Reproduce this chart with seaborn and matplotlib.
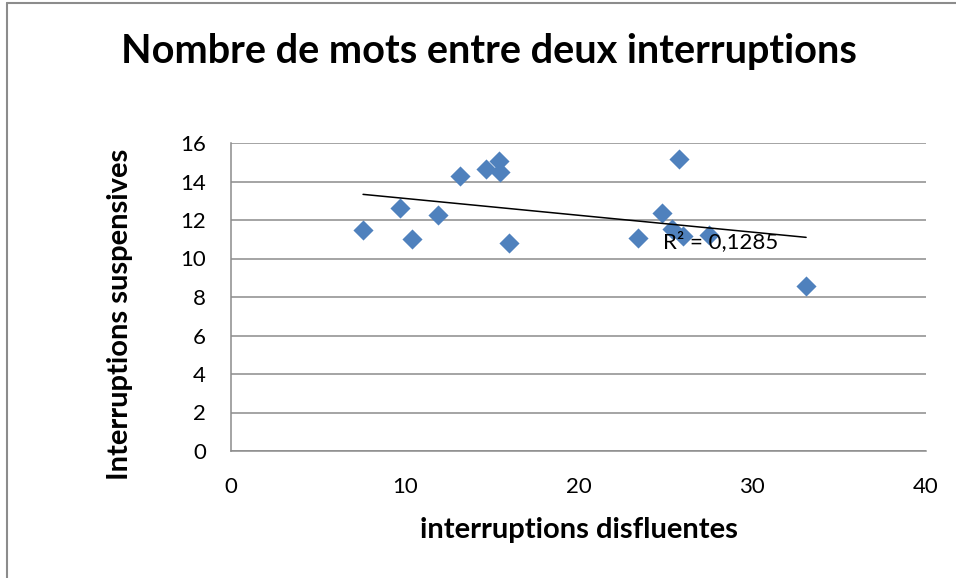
import matplotlib
matplotlib.use("Agg")
import matplotlib.pyplot as plt
import seaborn as sns
import pandas as pd
from matplotlib.lines import Line2D

# ------- DATA ---------
disfluentes = [7.6, 9.7, 10.4, 11.9, 13.2, 14.7, 15.4, 15.5, 16.0,
               23.4, 24.8, 25.4, 25.8, 26.0, 27.5, 33.1]
suspensives = [11.5, 12.6, 11.0, 12.25, 14.3, 14.65, 15.05, 14.5, 10.8,
               11.05, 12.35, 11.55, 15.15, 11.15, 11.2, 8.55]
r2_label = "R² = 0,1285"
title = "Nombre de mots entre deux interruptions"
x_label = "interruptions disfluentes"
y_label = "Interruptions suspensives"

df = pd.DataFrame({"x": disfluentes, "y": suspensives})

# ------- STYLE ---------
sns.set_style("white")
plt.rcParams["font.family"] = ["Lato", "DejaVu Sans"]
plt.rcParams["text.color"] = "black"
plt.rcParams["axes.labelcolor"] = "black"
grey = "#8C8C8C"
blue = "#4F81BD"

fig = plt.figure(figsize=(9.56, 5.78), dpi=100)
ax = fig.add_axes([231 / 956, 1 - 451 / 578, (926 - 231) / 956, (451 - 143) / 578])

# ------- PLOT ---------
sns.regplot(data=df, x="x", y="y", ax=ax, scatter=False, ci=None, truncate=True,
            line_kws={"color": "black", "linewidth": 1.1, "zorder": 3})
sns.scatterplot(data=df, x="x", y="y", ax=ax, marker="D", s=105, color=blue,
                linewidth=0, zorder=2)

ax.set_xlim(0, 40)
ax.set_ylim(0, 16)
ax.set_xticks(range(0, 41, 10))
ax.set_yticks(range(0, 17, 2))
ax.yaxis.grid(True, color=grey, linewidth=1.1, zorder=0)
ax.set_axisbelow(True)

for side in ["top", "right"]:
    ax.spines[side].set_visible(False)
for side in ["left", "bottom"]:
    ax.spines[side].set_color(grey)
    ax.spines[side].set_linewidth(1.1)

ax.tick_params(axis="both", which="major", direction="out", length=6, width=1.1,
               color=grey, labelsize=16, labelcolor="black")
ax.tick_params(axis="y", pad=12)
ax.tick_params(axis="x", pad=13)

ax.set_xlabel(x_label, fontsize=21, fontweight="bold", labelpad=14)
ax.set_ylabel(y_label, fontsize=21, fontweight="bold")
ax.yaxis.set_label_coords(-98 / 695, (451 - 314) / 308)

ax.text(24.85, 10.85, r2_label, fontsize=16, color="black", va="center", ha="left",
        zorder=4)

fig.text(489 / 956, 1 - 52 / 578, title, fontsize=28.5, fontweight="bold",
         ha="center", va="center", color="black")

# outer chart border (left and top visible)
fig.add_artist(Line2D([7 / 956, 7 / 956], [0, 1 - 3 / 578], transform=fig.transFigure,
                      color=grey, linewidth=1.5))
fig.add_artist(Line2D([7 / 956, 1], [1 - 3 / 578, 1 - 3 / 578], transform=fig.transFigure,
                      color=grey, linewidth=1.5))

fig.savefig("out.png", dpi=100)
